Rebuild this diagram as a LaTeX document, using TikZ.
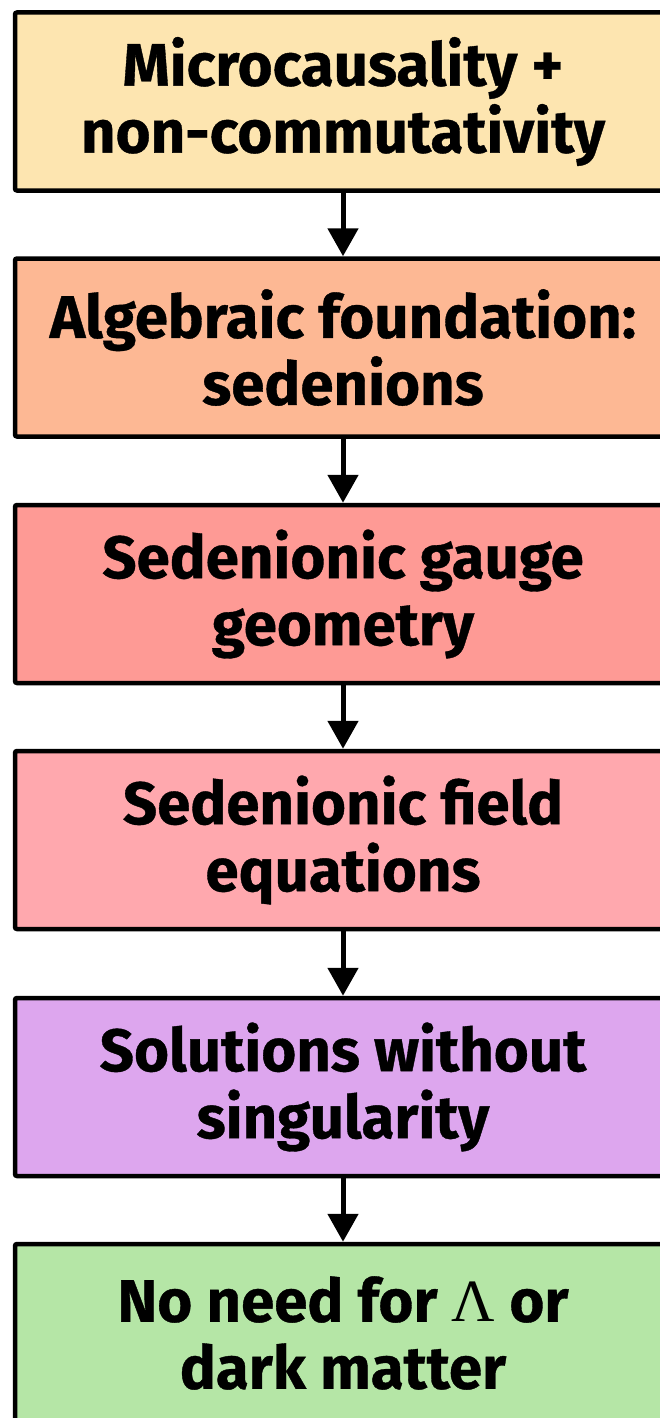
\documentclass[tikz,border=0pt]{standalone}
\usepackage{fontspec}
\setmainfont{Fira Sans}
\newfontfamily\boxfont[FakeBold=0.6]{Fira Sans Bold}
\newfontfamily\lamfont{Liberation Serif}
\usetikzlibrary{arrows.meta}
\definecolor{cA}{HTML}{FDE5B0}
\definecolor{cB}{HTML}{FDB894}
\definecolor{cC}{HTML}{FE9A95}
\definecolor{cD}{HTML}{FFA8AE}
\definecolor{cE}{HTML}{DDA6EE}
\definecolor{cF}{HTML}{B5E6A6}
\begin{document}
\begin{tikzpicture}[x=1pt,y=1pt,
  stepbox/.style={draw=black, line width=4.5pt, rounded corners=2pt,
    minimum width=656pt, minimum height=178pt, inner sep=0pt,
    align=center, font=\boxfont\fontsize{60}{67}\selectfont, text=black},
  flow/.style={line width=5pt, -{Triangle[width=30pt,length=28pt]}}]
\useasboundingbox (0,0) rectangle (659,-1418);
\node[stepbox, fill=cA] (b1) at (343,-101.5) {Microcausality +\\non-commutativity};
\node[stepbox, fill=cB] (b2) at (343,-347.5) {Algebraic foundation:\\sedenions};
\node[stepbox, fill=cC] (b3) at (343,-594) {Sedenionic gauge\\geometry};
\node[stepbox, fill=cD] (b4) at (343,-840) {Sedenionic field\\equations};
\node[stepbox, fill=cE] (b5) at (343,-1087) {Solutions without\\singularity};
\node[stepbox, fill=cF] (b6) at (343,-1333) {No need for {\lamfont Λ} or\\dark matter};
\draw[flow] (b1.south) -- (b2.north);
\draw[flow] (b2.south) -- (b3.north);
\draw[flow] (b3.south) -- (b4.north);
\draw[flow] (b4.south) -- (b5.north);
\draw[flow] (b5.south) -- (b6.north);
\end{tikzpicture}
\end{document}
